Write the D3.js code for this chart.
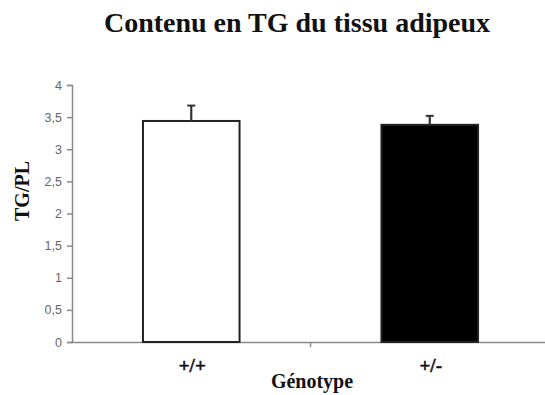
<!DOCTYPE html>
<html>
<head>
<meta charset="utf-8">
<script src="https://cdn.jsdelivr.net/npm/d3@7"></script>
<style>
  html, body { margin: 0; padding: 0; background: #fff; }
  svg { display: block; }
</style>
</head>
<body>
<svg id="chart" width="545" height="395"></svg>
<script>
// Triglyceride content of adipose tissue by genotype
const genotypes = ["+/+", "+/-"];
const means = [3.44, 3.38];
const errors = [0.24, 0.14];
const barFills = ["#ffffff", "#000000"];
const yTicks = [0, 0.5, 1, 1.5, 2, 2.5, 3, 3.5, 4];

const svg = d3.select("#chart");
const plotLeft = 72, plotRight = 549, plotTop = 85, plotBottom = 342;

const x = d3.scaleBand().domain(genotypes).range([plotLeft, plotRight]).padding(0);
const y = d3.scaleLinear().domain([0, 4]).range([plotBottom, plotTop]);

const fmt = d => String(d).replace(".", ",");

// Y axis
const yAxis = svg.append("g")
  .attr("transform", `translate(${plotLeft},0)`)
  .call(d3.axisLeft(y).tickValues(yTicks).tickSize(5).tickPadding(5).tickFormat(fmt));
yAxis.select(".domain").attr("stroke", "#8a8a8a").attr("stroke-width", 1.5);
yAxis.selectAll(".tick line").attr("stroke", "#8a8a8a").attr("stroke-width", 1.5);
yAxis.selectAll(".tick text")
  .attr("fill", "#666")
  .style("font-family", "Arial, 'Liberation Sans', sans-serif")
  .style("font-size", "12.5px");

// X axis: baseline with a boundary tick between categories
const xAxis = svg.append("g")
  .attr("transform", `translate(0,${plotBottom})`)
  .call(d3.axisBottom(x).tickSize(0).tickFormat(""));
xAxis.select(".domain").attr("stroke", "#8a8a8a").attr("stroke-width", 1.5);
xAxis.selectAll(".tick").remove();
svg.append("line")
  .attr("x1", x(genotypes[1])).attr("x2", x(genotypes[1]))
  .attr("y1", plotBottom).attr("y2", plotBottom + 5)
  .attr("stroke", "#8a8a8a").attr("stroke-width", 1.5);

// Bars
const barW = x.bandwidth() * 0.405;
const bars = genotypes.map((g, i) => ({ g, v: means[i], e: errors[i], fill: barFills[i] }));

svg.selectAll("rect.bar")
  .data(bars)
  .join("rect")
  .attr("class", "bar")
  .attr("x", d => x(d.g) + (x.bandwidth() - barW) / 2)
  .attr("y", d => y(d.v))
  .attr("width", barW)
  .attr("height", d => y(0) - y(d.v))
  .attr("fill", d => d.fill)
  .attr("stroke", "#222")
  .attr("stroke-width", 2);

// Upper error bars
const cx = d => x(d.g) + x.bandwidth() / 2;
svg.selectAll("line.err")
  .data(bars)
  .join("line")
  .attr("class", "err")
  .attr("x1", cx).attr("x2", cx)
  .attr("y1", d => y(d.v)).attr("y2", d => y(d.v + d.e))
  .attr("stroke", "#333").attr("stroke-width", 2.2);
svg.selectAll("line.cap")
  .data(bars)
  .join("line")
  .attr("class", "cap")
  .attr("x1", d => cx(d) - 4).attr("x2", d => cx(d) + 4)
  .attr("y1", d => y(d.v + d.e)).attr("y2", d => y(d.v + d.e))
  .attr("stroke", "#333").attr("stroke-width", 2);

// Category labels
const serif = "'Times New Roman', 'Liberation Serif', serif";
svg.selectAll("text.cat")
  .data(genotypes)
  .join("text")
  .attr("class", "cat")
  .attr("x", d => x(d) + x.bandwidth() / 2 + 1)
  .attr("y", 372)
  .attr("text-anchor", "middle")
  .style("font-family", serif)
  .style("font-weight", "bold")
  .style("font-size", "19px")
  .attr("fill", "#111")
  .attr("stroke", "#111")
  .attr("stroke-width", 0.5)
  .text(d => d);

// Axis titles
svg.append("text")
  .attr("x", 312).attr("y", 388)
  .attr("text-anchor", "middle")
  .style("font-family", serif)
  .style("font-weight", "bold")
  .style("font-size", "20px")
  .attr("fill", "#111")
  .text("Génotype");

svg.append("text")
  .attr("transform", "translate(29,191) rotate(-90)")
  .attr("text-anchor", "middle")
  .style("font-family", serif)
  .style("font-weight", "bold")
  .style("font-size", "20px")
  .attr("fill", "#111")
  .text("TG/PL");

// Title
svg.append("text")
  .attr("x", 297).attr("y", 32)
  .attr("text-anchor", "middle")
  .style("font-family", serif)
  .style("font-weight", "bold")
  .style("font-size", "28px")
  .attr("fill", "#111")
  .text("Contenu en TG du tissu adipeux");
</script>
</body>
</html>
